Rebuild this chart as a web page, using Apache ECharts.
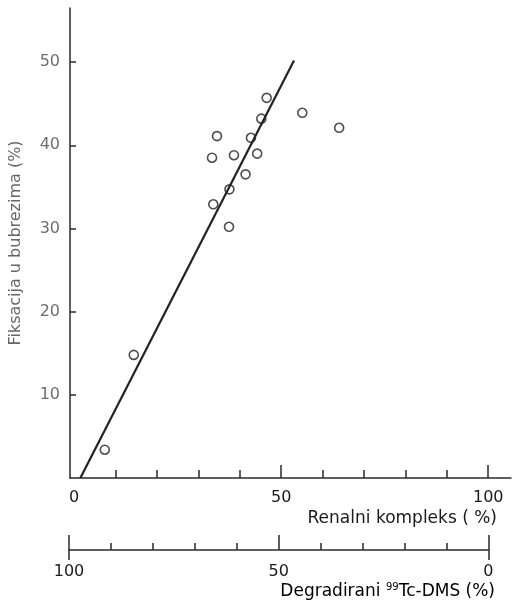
<!DOCTYPE html>
<html>
<head>
<meta charset="utf-8">
<script src="https://cdn.jsdelivr.net/npm/echarts@6/dist/echarts.min.js"></script>
<style>
  html, body { margin: 0; padding: 0; background: #fff; }
  #chart { width: 515px; height: 603px; }
</style>
</head>
<body>
<div id="chart"></div>
<script>
// tocke (renalni kompleks %, fiksacija %)
var renalX = [46.5, 55.1, 64.0, 45.2, 34.5, 42.7, 33.3, 38.6, 44.2, 41.4, 37.5, 33.6, 37.4, 14.4, 7.4];
var fiksY = [45.7, 43.9, 42.1, 43.2, 41.1, 40.9, 38.5, 38.8, 39.0, 36.5, 34.7, 32.9, 30.2, 14.8, 3.4];
// pravac regresije, krajnje tocke
var fitX = [1.5, 53.1];
var fitY = [0, 50.2];
// oznake osi
var yTicks = [10, 20, 30, 40, 50];
var renalMinor = [10, 20, 30, 40, 60, 70, 80, 90];
var renalMajor = [50, 100];
var renalLabels = [0, 50, 100];
var degMinor = [10, 20, 30, 40, 60, 70, 80, 90];
var degMajor = [0, 50, 100];
var degEnds = [0, 100];
var degLabels = [0, 50, 100];

var font = 'DejaVu Sans';
var lineCol = '#2a2a2a';

var points = renalX.map(function (x, i) { return [x, fiksY[i]]; });
var fit = fitX.map(function (x, i) { return [x, fitY[i]]; });

function xAx(grid, extra) {
    var base = {
        type: 'value', gridIndex: grid, position: 'bottom',
        splitLine: {show: false},
        axisLine: {show: false, onZero: false},
        axisLabel: {show: false},
        axisTick: {show: false}
    };
    for (var k in extra) base[k] = extra[k];
    return base;
}

var option = {
    animation: false,
    grid: [
        {left: 68.5, right: 4, top: 8, bottom: 125},
        {left: 69, right: 26.7, top: 540, bottom: 53}
    ],
    xAxis: [
        xAx(0, {
            min: -1, max: 105.5,
            axisLine: {show: true, onZero: false, lineStyle: {color: lineCol, width: 1.5}},
            axisTick: {show: true, inside: true, length: 8, customValues: renalMinor, lineStyle: {color: lineCol, width: 1.5}},
            axisLabel: {show: true, customValues: renalLabels, margin: 12, color: '#1a1a1a', fontSize: 16, fontFamily: font}
        }),
        xAx(0, {
            min: -1, max: 105.5,
            axisTick: {show: true, inside: true, length: 13, customValues: renalMajor, lineStyle: {color: lineCol, width: 1.5}}
        }),
        xAx(1, {
            min: 0, max: 100, inverse: true,
            axisLine: {show: true, onZero: false, lineStyle: {color: lineCol, width: 1.5}},
            axisTick: {show: true, inside: true, length: 7, customValues: degMinor, lineStyle: {color: lineCol, width: 1.5}},
            axisLabel: {show: true, customValues: degLabels, margin: 14, color: '#1a1a1a', fontSize: 16, fontFamily: font}
        }),
        xAx(1, {
            min: 0, max: 100, inverse: true,
            axisTick: {show: true, inside: true, length: 15, customValues: degMajor, lineStyle: {color: lineCol, width: 1.5}}
        }),
        xAx(1, {
            min: 0, max: 100, inverse: true,
            axisTick: {show: true, inside: false, length: 10, customValues: degEnds, lineStyle: {color: lineCol, width: 1.5}}
        })
    ],
    yAxis: [
        {
            type: 'value', gridIndex: 0, min: 0, max: 56.5,
            splitLine: {show: false},
            axisLine: {show: true, onZero: false, lineStyle: {color: lineCol, width: 1.5}},
            axisTick: {show: true, inside: true, length: 6, customValues: yTicks, lineStyle: {color: lineCol, width: 1.5}},
            axisLabel: {customValues: yTicks, margin: 10, color: '#6e6e6e', fontSize: 16, fontFamily: font},
            name: 'Fiksacija u bubrezima (%)',
            nameLocation: 'middle',
            nameGap: 46,
            nameTextStyle: {color: '#666', fontSize: 16, fontFamily: font}
        },
        {type: 'value', gridIndex: 1, min: 0, max: 1, show: false}
    ],
    graphic: [
        {
            type: 'text', right: 18, top: 510,
            style: {text: 'Renalni kompleks ( %)', fill: '#1a1a1a', font: '17px ' + font, textAlign: 'right'}
        },
        {
            type: 'text', right: 20, top: 582,
            style: {
                text: '{a|Degradirani }{s|99}{a|Tc-DMS (%)}',
                rich: {
                    a: {fontSize: 17, fontFamily: font, color: '#1a1a1a', verticalAlign: 'bottom'},
                    s: {fontSize: 10, fontFamily: font, color: '#1a1a1a', verticalAlign: 'top', padding: [0, 0, 8, 0]}
                }
            }
        }
    ],
    series: [
        {
            type: 'line', xAxisIndex: 0, yAxisIndex: 0,
            data: fit, symbol: 'none',
            lineStyle: {color: '#222', width: 2.2}
        },
        {
            type: 'scatter', xAxisIndex: 0, yAxisIndex: 0,
            data: points, symbol: 'circle', symbolSize: 9,
            itemStyle: {color: '#fff', borderColor: '#222', borderWidth: 1.6}
        }
    ]
};

var myChart = echarts.init(document.getElementById('chart'));
myChart.setOption(option);
</script>
</body>
</html>
